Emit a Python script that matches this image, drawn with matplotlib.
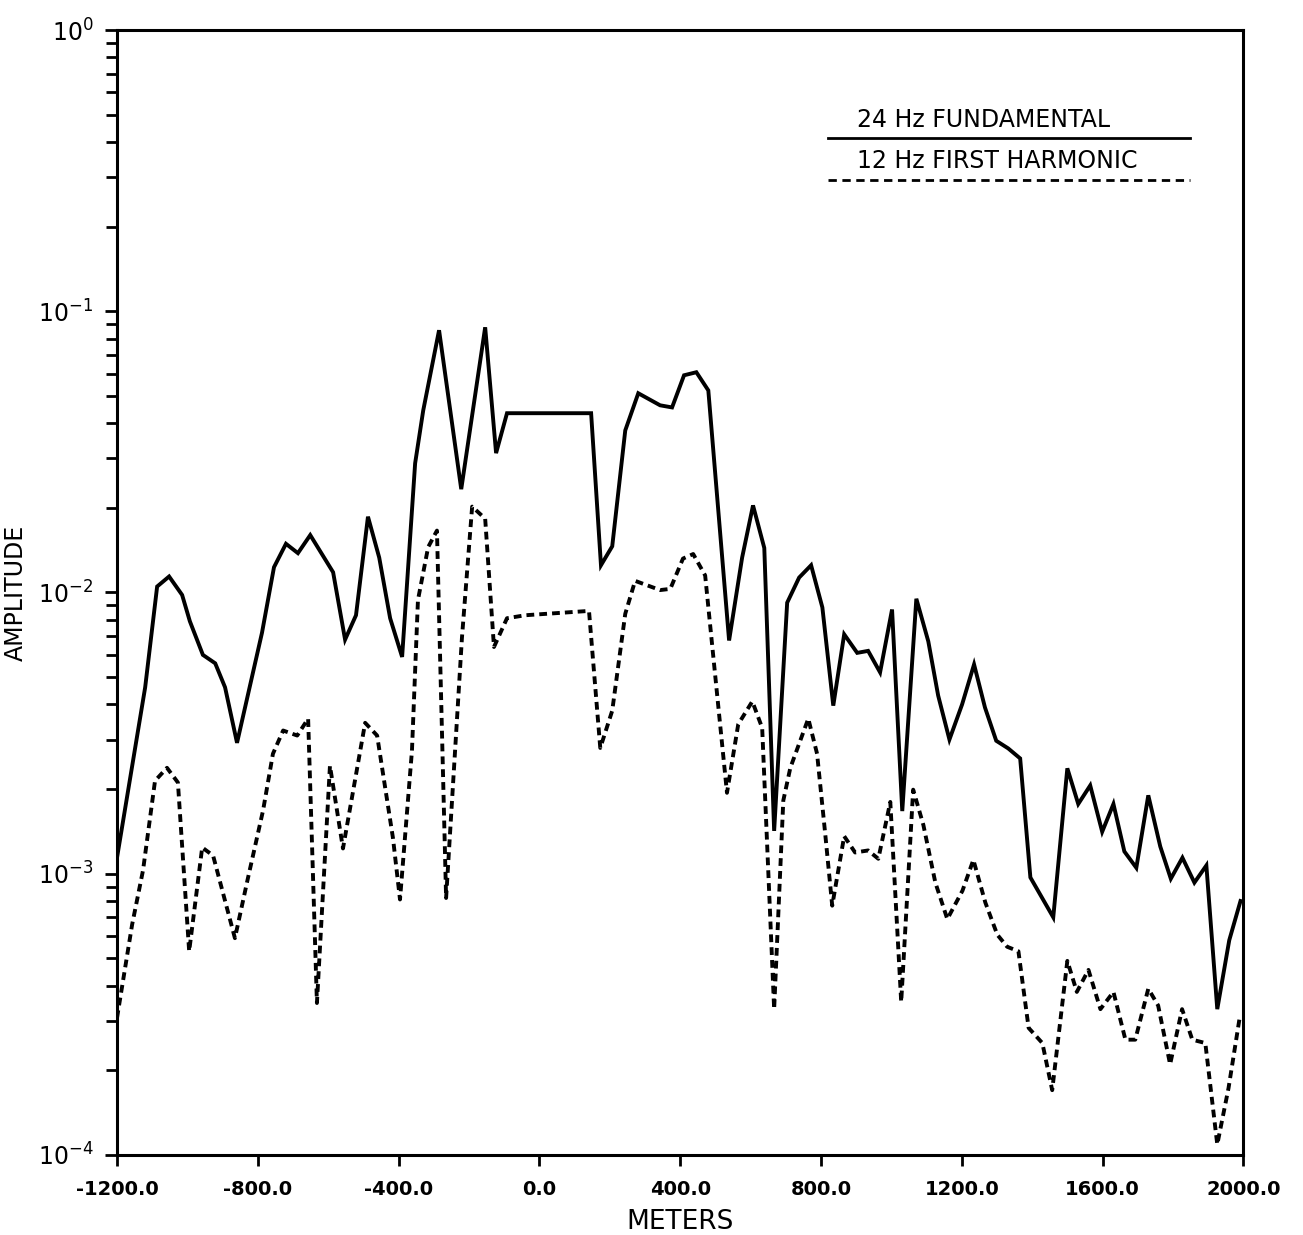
import matplotlib
matplotlib.use("Agg")
import matplotlib.pyplot as plt
from matplotlib.ticker import FixedLocator, FormatStrFormatter, LogLocator, NullFormatter

# 24 Hz fundamental (solid line)
fund_x = [-1200, -1120, -1086, -1052, -1015, -993, -956, -921, -893, -859,
          -788, -754, -720, -686, -651, -586, -552, -521, -487, -455,
          -424, -390, -353, -330, -285, -222, -154, -123, -92, 147,
          175, 207, 244, 281, 343, 377, 411, 446, 480, 539,
          576, 607, 639, 667, 704, 738, 772, 804, 835, 866,
          903, 934, 968, 1002, 1031, 1071, 1105, 1133, 1165, 1201,
          1235, 1266, 1298, 1332, 1366, 1395, 1460, 1500, 1531, 1565,
          1599, 1631, 1662, 1696, 1730, 1764, 1794, 1827, 1861, 1895,
          1926, 1960, 1992]
fund_amp = [1.14e-3, 4.6e-3, 0.0105, 0.0114, 0.0098, 7.9e-3, 6.0e-3, 5.6e-3, 4.6e-3, 2.92e-3,
            7.2e-3, 0.0123, 0.0149, 0.0138, 0.0160, 0.0118, 6.8e-3, 8.3e-3, 0.0186, 0.0133,
            8.1e-3, 5.9e-3, 0.0288, 0.0444, 0.0856, 0.0233, 0.0877, 0.0313, 0.0434, 0.0434,
            0.0125, 0.0146, 0.0377, 0.0511, 0.0463, 0.0455, 0.0592, 0.0607, 0.0523, 6.75e-3,
            0.0133, 0.0204, 0.0144, 1.42e-3, 9.2e-3, 0.0113, 0.0125, 8.85e-3, 3.96e-3, 7.1e-3,
            6.1e-3, 6.2e-3, 5.2e-3, 8.7e-3, 1.67e-3, 9.5e-3, 6.7e-3, 4.3e-3, 3.0e-3, 4.0e-3,
            5.55e-3, 3.9e-3, 2.97e-3, 2.79e-3, 2.57e-3, 9.7e-4, 7.0e-4, 2.37e-3, 1.77e-3, 2.06e-3,
            1.41e-3, 1.77e-3, 1.2e-3, 1.05e-3, 1.9e-3, 1.25e-3, 9.6e-4, 1.14e-3, 9.3e-4, 1.07e-3,
            3.3e-4, 5.8e-4, 8.0e-4]

# 12 Hz first harmonic (dashed line)
harm_x = [-1200, -1157, -1126, -1092, -1058, -1027, -995, -958, -927, -865,
          -830, -785, -757, -728, -688, -657, -632, -595, -558, -495,
          -461, -416, -396, -362, -345, -316, -291, -265, -220, -191,
          -154, -129, -92, -40, 141, 173, 207, 244, 272, 343,
          372, 408, 437, 471, 533, 565, 605, 633, 667, 693,
          713, 764, 789, 812, 832, 866, 897, 934, 963, 997,
          1028, 1062, 1091, 1125, 1159, 1202, 1233, 1267, 1301, 1329,
          1361, 1390, 1429, 1457, 1500, 1527, 1560, 1594, 1631, 1665,
          1693, 1730, 1758, 1792, 1826, 1855, 1892, 1926, 1958, 1990]
harm_amp = [3.07e-4, 6.6e-4, 1.03e-3, 2.14e-3, 2.38e-3, 2.11e-3, 5.3e-4, 1.24e-3, 1.16e-3, 5.9e-4,
            9.4e-4, 1.68e-3, 2.67e-3, 3.23e-3, 3.1e-3, 3.56e-3, 3.47e-4, 2.42e-3, 1.23e-3, 3.44e-3,
            3.1e-3, 1.34e-3, 8.1e-4, 2.74e-3, 9.4e-3, 0.0145, 0.0166, 8.2e-4, 6.9e-3, 0.0202,
            0.0183, 6.4e-3, 8.1e-3, 8.3e-3, 8.6e-3, 2.8e-3, 3.8e-3, 8.4e-3, 0.011, 0.0102,
            0.0103, 0.0132, 0.0137, 0.0115, 1.94e-3, 3.4e-3, 4.1e-3, 3.3e-3, 3.3e-4, 1.82e-3,
            2.38e-3, 3.56e-3, 2.67e-3, 1.39e-3, 7.7e-4, 1.36e-3, 1.19e-3, 1.21e-3, 1.13e-3, 1.8e-3,
            3.5e-4, 1.99e-3, 1.49e-3, 9.3e-4, 6.9e-4, 8.7e-4, 1.12e-3, 7.9e-4, 6.07e-4, 5.5e-4,
            5.3e-4, 2.83e-4, 2.5e-4, 1.7e-4, 4.9e-4, 3.8e-4, 4.55e-4, 3.3e-4, 3.8e-4, 2.57e-4,
            2.57e-4, 3.9e-4, 3.4e-4, 2.1e-4, 3.3e-4, 2.57e-4, 2.5e-4, 1.09e-4, 1.73e-4, 3.1e-4]

x_ticks = [-1200, -800, -400, 0, 400, 800, 1200, 1600, 2000]
legend_labels = ["24 Hz FUNDAMENTAL", "12 Hz FIRST HARMONIC"]

plt.rcParams['font.family'] = ['DejaVu Sans']

fig = plt.figure(figsize=(13.03, 12.35), dpi=100)
ax = fig.add_axes([0.0898, 0.0648, 0.8644, 0.9109])

ax.plot(fund_x, fund_amp, color='black', lw=2.8, solid_joinstyle='miter')
ax.plot(harm_x, harm_amp, color='black', lw=2.8, linestyle=(0, (2.0, 1.3)))

ax.set_yscale('log')
ax.set_xlim(-1200, 2000)
ax.set_ylim(1e-4, 1)

ax.xaxis.set_major_locator(FixedLocator(x_ticks))
ax.xaxis.set_major_formatter(FormatStrFormatter('%.1f'))
ax.yaxis.set_major_locator(LogLocator(base=10, numticks=10))
ax.yaxis.set_minor_locator(LogLocator(base=10, subs=range(2, 10), numticks=20))
ax.yaxis.set_minor_formatter(NullFormatter())

for s in ax.spines.values():
    s.set_linewidth(2.2)

ax.tick_params(axis='x', which='major', direction='out', length=8, width=2,
               labelsize=14, pad=10, top=False)
for lbl in ax.get_xticklabels():
    lbl.set_fontweight('bold')
ax.tick_params(axis='y', which='major', direction='out', length=9, width=2,
               labelsize=17, pad=8, right=False)
ax.tick_params(axis='y', which='minor', direction='out', length=8, width=2,
               right=False)

ax.set_xlabel("METERS", fontsize=19)
ax.xaxis.set_label_coords(0.5, -0.048)
ax.set_ylabel("AMPLITUDE", fontsize=17)
ax.yaxis.set_label_coords(-0.079, 0.5)

# hand-drawn style legend in the upper right
ax.text(0.657, 0.920, legend_labels[0], transform=ax.transAxes, fontsize=17,
        ha='left', va='center')
ax.plot([0.631, 0.953], [0.904, 0.904], transform=ax.transAxes, color='black', lw=2)
ax.text(0.657, 0.884, legend_labels[1], transform=ax.transAxes, fontsize=17,
        ha='left', va='center')
ax.plot([0.631, 0.953], [0.867, 0.867], transform=ax.transAxes, color='black',
        lw=2, linestyle=(0, (3, 2)))

fig.savefig("out.png", dpi=100)
